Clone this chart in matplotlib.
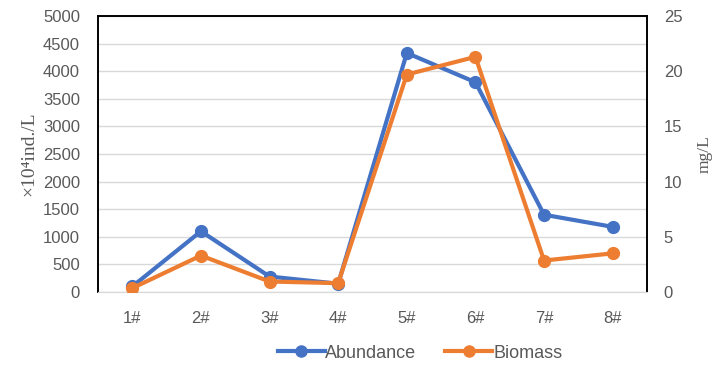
import matplotlib.pyplot as plt
from matplotlib.lines import Line2D

sites = ['1#', '2#', '3#', '4#', '5#', '6#', '7#', '8#']
abundance = [100, 1100, 280, 150, 4330, 3800, 1400, 1180]
biomass = [0.35, 3.3, 0.95, 0.8, 19.7, 21.3, 2.85, 3.5]

blue = '#4472C4'
orange = '#ED7D31'
grey = '#595959'
sans = ['Liberation Sans', 'DejaVu Sans']
serif = ['Liberation Serif', 'DejaVu Serif']

fig = plt.figure(figsize=(7.12, 3.67), dpi=100)
ax = fig.add_axes([98 / 712, 1 - 292 / 367, 549 / 712, 276 / 367])
ax2 = ax.twinx()

x = list(range(len(sites)))
ax.plot(x, abundance, color=blue, lw=3, marker='o', ms=8.5, zorder=3, solid_capstyle='round')
ax2.plot(x, biomass, color=orange, lw=3, marker='o', ms=8.5, zorder=3, solid_capstyle='round')

ax.set_xlim(-0.5, 7.5)
ax.set_ylim(0, 5000)
ax.set_yticks(range(0, 5001, 500))
ax2.set_ylim(0, 25)
ax2.set_yticks(range(0, 26, 5))
ax.set_xticks(x)
ax.set_xticklabels(sites)

ax.grid(axis='y', color='#d9d9d9', lw=1)
ax.set_axisbelow(True)

for a in (ax, ax2):
    a.tick_params(length=0, labelsize=12, labelcolor=grey)
    for lab in a.get_xticklabels() + a.get_yticklabels():
        lab.set_family(sans)
    a.spines['bottom'].set_color('#d9d9d9')
    for s in ('left', 'right', 'top'):
        a.spines[s].set_color('black')
        a.spines[s].set_linewidth(1.2)
ax.tick_params(axis='y', pad=13)
ax.tick_params(axis='x', pad=14)
ax2.tick_params(axis='y', pad=12)

ax.set_ylabel('×10⁴ind./L', family=serif, fontsize=14, color=grey, labelpad=4)
ax2.set_ylabel('mg/L', family=serif, fontsize=12.5, color=grey, labelpad=10)

handles = [
    Line2D([], [], color=blue, lw=3, marker='o', ms=8),
    Line2D([], [], color=orange, lw=3, marker='o', ms=8),
]
fig.legend(handles, ['Abundance', 'Biomass'], loc='center', ncol=2,
           bbox_to_anchor=(420 / 712, 1 - 353 / 367), frameon=False,
           prop={'family': sans, 'size': 13}, labelcolor=grey,
           handlelength=2.6, handletextpad=0.05, columnspacing=1.6)

fig.savefig('out.png', dpi=100)
